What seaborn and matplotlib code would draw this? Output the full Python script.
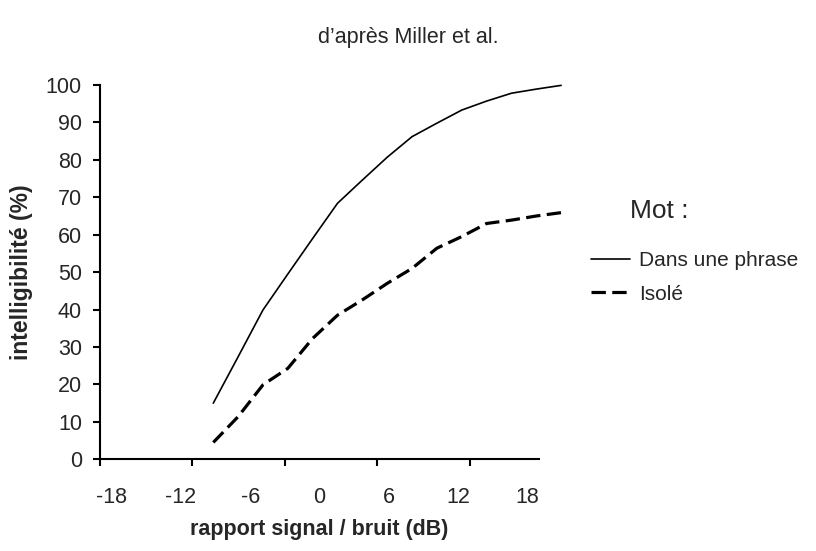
import matplotlib
matplotlib.use('Agg')
import matplotlib.pyplot as plt
import seaborn as sns
import pandas as pd
from matplotlib.lines import Line2D

# values
snr_db = [-10, -8, -6, -4, -2, 0, 2, 4, 6, 8, 10, 12, 14, 16, 18]
dans_phrase = [15.0, 27.4, 39.9, 49.5, 59.0, 68.4, 74.6, 80.7, 86.2, 89.8, 93.3, 95.7, 97.8, 98.9, 99.9]
isole = [4.5, 11.4, 19.9, 24.3, 32.3, 38.5, 42.6, 47.0, 51.0, 56.4, 59.5, 63.0, 63.9, 65.0, 65.9]
series_names = ["Dans une phrase", "Isolé"]
x_labels = ["-18", "-12", "-6", "0", "6", "12", "18"]
x_label_pos = [-18, -12, -6, 0, 6, 12, 18]
x_tick_marks = [-19, -11, -3, 5, 13]

df = pd.DataFrame({
    "snr": snr_db * 2,
    "intel": dans_phrase + isole,
    "mot": [series_names[0]] * len(snr_db) + [series_names[1]] * len(snr_db),
})

sns.set_style("white")
plt.rcParams['font.family'] = ['Liberation Sans', 'DejaVu Sans']

fig = plt.figure(figsize=(8.16, 5.51), dpi=100)
ax = fig.add_axes([100 / 816, 1 - 459.3 / 551, 439 / 816, 374.3 / 551])

# visible category-style axis
ax.set_xlim(-19, 19)
ax.set_ylim(0, 100)
ax.set_xticks(x_tick_marks)
ax.set_xticklabels([])
ax.set_xticks(x_label_pos, minor=True)
ax.set_xticklabels(x_labels, minor=True)
ax.set_yticks(range(0, 101, 10))
ax.tick_params(axis='x', which='major', direction='out', length=5, width=1.5, color='black', bottom=True)
ax.tick_params(axis='x', which='minor', length=0, labelsize=15.5, pad=20, bottom=True)
ax.tick_params(axis='y', direction='out', length=5, width=1.5, color='black', labelsize=15.5, pad=8, left=True)
for s in ['top', 'right']:
    ax.spines[s].set_visible(False)
for s in ['left', 'bottom']:
    ax.spines[s].set_color('black')
    ax.spines[s].set_linewidth(1.5)
ax.set_xlabel("rapport signal / bruit (dB)", fontsize=15.5, fontweight='bold', labelpad=8)
ax.set_ylabel("intelligibilité (%)", fontsize=16.5, fontweight='bold', labelpad=9)

# data drawn on a hidden secondary axis (as in the original spreadsheet chart)
ax2 = ax.twiny()
sns.lineplot(data=df, x="snr", y="intel", style="mot", color="black",
             dashes={series_names[0]: "", series_names[1]: (4.5, 2.0)},
             legend=False, ax=ax2)
ax2.set_xlim(-19.12, 16.22)
ax2.set_ylim(0, 100)
ax2.axis('off')
widths = [1.2, 2.3]
for line, w in zip(ax2.get_lines(), widths):
    line.set_linewidth(w)
    line.set_clip_on(False)

handles = [Line2D([], [], color='black', lw=1.2),
           Line2D([], [], color='black', lw=2.3, dashes=(4.5, 2.0))]
fig.legend(handles, series_names, loc='upper left', bbox_to_anchor=(591 / 816, 1 - 251 / 551),
           frameon=False, fontsize=15, handlelength=1.85, handletextpad=0.45,
           labelspacing=0.7, borderpad=0, borderaxespad=0)
fig.text(630 / 816, 1 - 211 / 551, "Mot :", fontsize=19, ha='left', va='center')

fig.text(408 / 816, 1 - 38 / 551, "d’après Miller et al.", fontsize=15.5, ha='center', va='center')

fig.savefig("out.png", dpi=100)
